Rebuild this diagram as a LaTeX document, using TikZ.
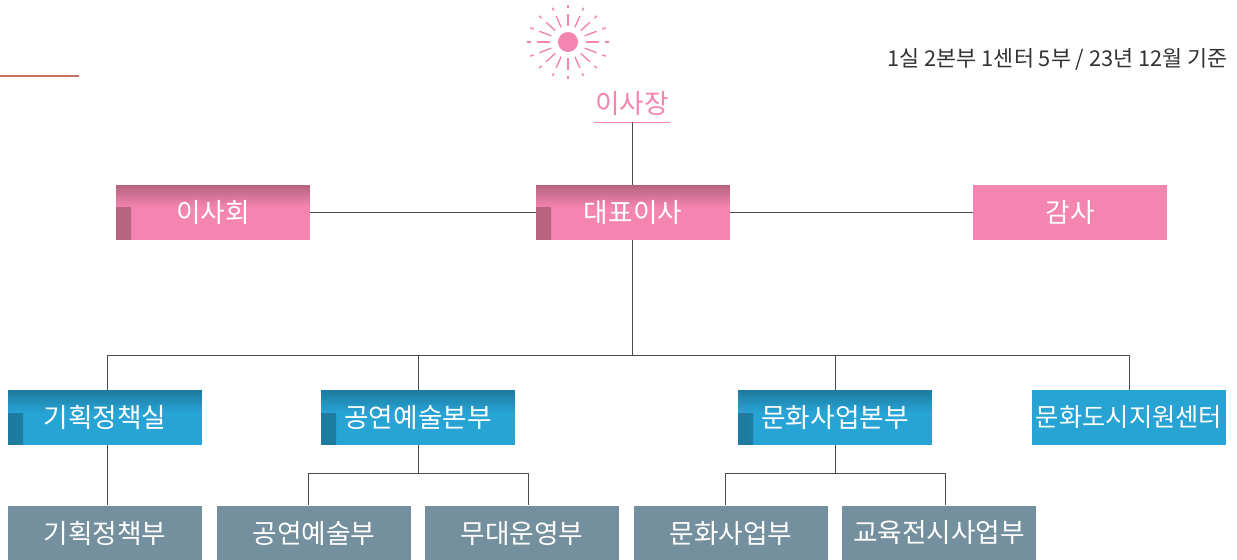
\documentclass[tikz,border=0pt]{standalone}
\usepackage{fontspec}
\setmainfont{Noto Sans CJK KR}
\definecolor{pinkbox}{HTML}{F484B0}
\definecolor{pinkdark}{HTML}{B5637F}
\definecolor{bluebox}{HTML}{27A3D4}
\definecolor{bluedark}{HTML}{1E7A9E}
\definecolor{greybox}{HTML}{74909E}
\definecolor{linegrey}{HTML}{4A4A4A}
\definecolor{rust}{HTML}{C87060}
\tikzset{b/.style={font=\fontsize{15.2}{15.2}\selectfont,text=white,inner sep=0pt,minimum width=3.88cm,minimum height=1.1cm}}
\tikzset{flat/.style={b,fill=#1}}
\tikzset{bar/.style 2 args={b,fill=#1,path picture={
  \shade[left color=#2,right color=#1] (path picture bounding box.north west) rectangle ([xshift=.3cm]path picture bounding box.south west);
  \shade[top color=#2,bottom color=#1] (path picture bounding box.north west) rectangle ([yshift=-.44cm]path picture bounding box.north east);}}}
\tikzset{ln/.style={linegrey,line width=.55pt}}
\tikzset{ray/.style={pinkbox,line width=.8pt}}
\begin{document}
\begin{tikzpicture}[line join=round,x=.02cm,y=-.02cm]
            \useasboundingbox (0,0) rectangle (1237,560);
            \node[circle,fill=pinkbox,inner sep=0pt,minimum size=.4cm] (S) at (568,42) {};
            \foreach \a in {0,22.5,...,337.5} {
              \draw[ray] ([shift={(\a:18 and 16)}]S.center) -- ([shift={(\a:31 and 28)}]S.center);
              \draw[ray] ([shift={(\a:37 and 34)}]S.center) -- ([shift={(\a:41 and 37)}]S.center);
            }
            \node[text=pinkbox,font=\fontsize{15.2}{15.2}\selectfont,inner sep=0pt,minimum width=1.52cm,minimum height=.72cm] (C) at (632,104) {이사장};
            \draw[pinkbox,line width=.5pt] (C.south west) -- (C.south east);
            \node[font=\fontsize{12.4}{12.4}\selectfont,text=black!80,anchor=east,inner sep=0pt] (N) at (1228,59) {1실 2본부 1센터 5부 / 23년 12월 기준};
            \coordinate (R1) at (0,76);
            \coordinate (R2) at (79,76);
            \draw[rust,line width=1.5pt] (R1) -- (R2);
            % top row
            \node[bar={pinkbox}{pinkdark}] (D) at (633,212.5) {대표이사};
            \node[bar={pinkbox}{pinkdark}] (E) at (213,212.5) {이사회}
              edge [ln] (D);
            \node[flat=pinkbox] (F) at (1070,212.5) {감사}
              edge [ln] (D);
            % second row
            \node[bar={bluebox}{bluedark}] (G) at (105,417.5) {기획정책실};
            \node[bar={bluebox}{bluedark}] (H) at (418,417.5) {공연예술본부};
            \node[bar={bluebox}{bluedark}] (I) at (835,417.5) {문화사업본부};
            \node[flat=bluebox] (J) at (1129,417.5) {\fontsize{14.4}{14.4}\selectfont 문화도시지원센터};
            % third row
            \node[flat=greybox] (K) at (105,533) {기획정책부};
            \node[flat=greybox] (L) at (314,533) {공연예술부};
            \node[flat=greybox] (M) at (522,533) {무대운영부};
            \node[flat=greybox] (O) at (731,533) {문화사업부};
            \node[flat=greybox] (Q) at (939,533) {교육전시사업부};
            % lines
            \coordinate (P) at (632,355);
            \coordinate (P1) at (107,355);
            \coordinate (P2) at (1129,355);
            \coordinate (T) at (418,473);
            \coordinate (T1) at (308,473);
            \coordinate (T2) at (528,473);
            \coordinate (U) at (835,473);
            \coordinate (U1) at (725,473);
            \coordinate (U2) at (945,473);
            \begin{scope}[ln]
              \draw (P |- C.south) -- (P |- D.north);
              \draw (P |- D.south) -- (P);
              \draw (P1 |- G.north) -- (P1) -- (P2) -- (J.north);
              \draw (H.north) -- (H.north |- P);
              \draw (I.north) -- (I.north |- P);
              \draw (P1 |- G.south) -- (P1 |- K.north);
              \draw (H.south) -- (T);
              \draw (T1 |- L.north) -- (T1) -- (T2) -- (T2 |- M.north);
              \draw (I.south) -- (U);
              \draw (U1 |- O.north) -- (U1) -- (U2) -- (U2 |- Q.north);
            \end{scope}
          \end{tikzpicture}
\end{document}
